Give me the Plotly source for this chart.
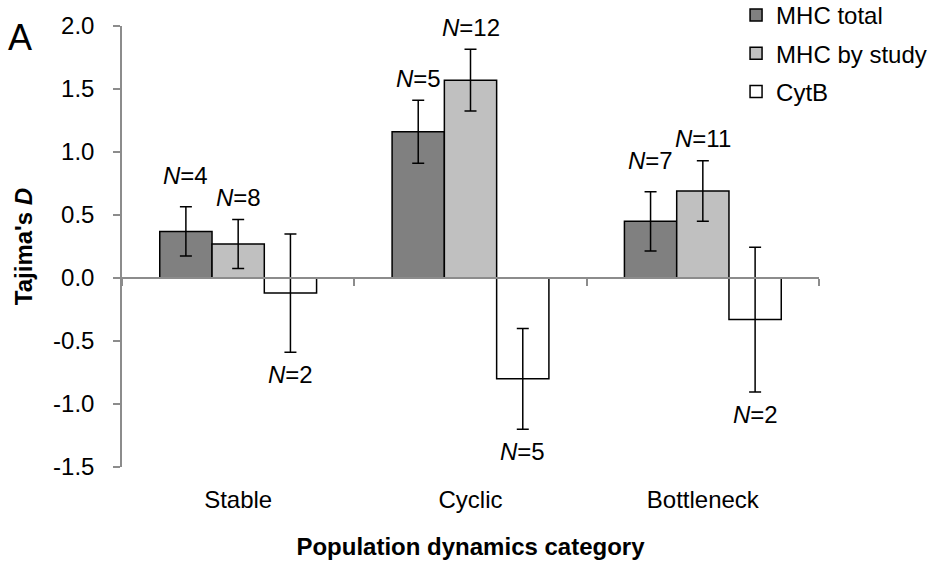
import plotly.graph_objects as go

# Tajima's D per population dynamics category
categories = ["Stable", "Cyclic", "Bottleneck"]

mhc_total = [0.37, 1.16, 0.45]
mhc_total_err = [0.195, 0.25, 0.235]
mhc_total_n = [4, 5, 7]

mhc_study = [0.27, 1.57, 0.69]
mhc_study_err = [0.195, 0.245, 0.24]
mhc_study_n = [8, 12, 11]

cytb = [-0.12, -0.80, -0.33]
cytb_err = [0.47, 0.40, 0.575]
cytb_n = [2, 5, 2]

FONT = "Liberation Sans, Arial, sans-serif"
AXIS_GREY = "#8c8c8c"
BARGAP = 0.325

series = [
    ("MHC total", mhc_total, mhc_total_err, mhc_total_n, "#808080"),
    ("MHC by study", mhc_study, mhc_study_err, mhc_study_n, "#c0c0c0"),
    ("CytB", cytb, cytb_err, cytb_n, "#ffffff"),
]

fig = go.Figure()
for name, vals, errs, _, color in series:
    fig.add_trace(go.Bar(
        name=name, x=categories, y=vals, legendgroup=name,
        marker=dict(color=color, line=dict(color="black", width=1.5)),
        error_y=dict(type="data", array=errs, visible=True,
                     color="black", thickness=1.5, width=6),
    ))

# invisible trace so the zero-line axis (with category divider ticks) is drawn
fig.add_trace(go.Scatter(x=[None], y=[None], xaxis="x2", yaxis="y",
                         showlegend=False, hoverinfo="skip"))

# N labels above (positive) or below (negative) each error bar
bar_w = (1 - BARGAP) / len(series)
extra_lift = {(0, 0), (0, 2)}  # labels set a bit higher
annotations = []
for s_idx, (name, vals, errs, ns, _) in enumerate(series):
    offset = (s_idx - (len(series) - 1) / 2) * bar_w
    for c_idx, (v, e, n) in enumerate(zip(vals, errs, ns)):
        if v >= 0:
            y = v + e
            shift = 31 if (s_idx, c_idx) in extra_lift else 22
        else:
            y = v - e
            shift = -22
        annotations.append(dict(
            x=c_idx + offset, y=y, xref="x", yref="y",
            text=f"<i>N</i>={n}", showarrow=False,
            yshift=shift, xanchor="center", yanchor="middle",
            font=dict(family=FONT, size=24, color="black"),
        ))

# panel letter
annotations.append(dict(
    x=-0.167, y=0.975, xref="paper", yref="paper", text="A",
    showarrow=False, xanchor="left", yanchor="middle",
    font=dict(family=FONT, size=36, color="black"),
))

fig.update_layout(
    width=945, height=567,
    margin=dict(l=122, r=126, t=26, b=100, autoexpand=False),
    paper_bgcolor="white", plot_bgcolor="white",
    barmode="group", bargap=BARGAP, bargroupgap=0,
    font=dict(family=FONT, size=24, color="black"),
    showlegend=True,
    legend=dict(x=0.881, y=1.075, xanchor="left", yanchor="top",
                bgcolor="rgba(0,0,0,0)", font=dict(size=24),
                traceorder="grouped", tracegroupgap=4, itemwidth=30),
    xaxis=dict(
        range=[-0.5, 2.5], showline=False, showgrid=False, zeroline=False,
        ticks="", ticklabelstandoff=16,
        tickfont=dict(size=24),
        title=dict(text="<b>Population dynamics category</b>",
                   font=dict(size=24), standoff=26),
    ),
    xaxis2=dict(
        overlaying="x", anchor="free", position=1.5 / 3.5,
        range=[-0.5, 2.5], tickmode="array", tickvals=[-0.5, 0.5, 1.5, 2.5],
        showticklabels=False, ticks="outside", ticklen=7, tickwidth=1.5,
        tickcolor=AXIS_GREY, showline=True, linecolor=AXIS_GREY, linewidth=1.5,
        showgrid=False, zeroline=False,
    ),
    yaxis=dict(
        range=[-1.5, 2.0], tickmode="array",
        tickvals=[-1.5, -1.0, -0.5, 0.0, 0.5, 1.0, 1.5, 2.0],
        ticktext=["-1.5", "-1.0", "-0.5", "0.0", "0.5", "1.0", "1.5", "2.0"],
        showline=True, linecolor=AXIS_GREY, linewidth=1.5,
        ticks="outside", ticklen=7, tickwidth=1.5, tickcolor=AXIS_GREY,
        ticklabelstandoff=14, showgrid=False, zeroline=False,
        tickfont=dict(size=24),
        title=dict(text="<b>Tajima's <i>D</i></b>", font=dict(size=24),
                   standoff=14),
    ),
    annotations=annotations,
)

fig.write_html("out.html")
